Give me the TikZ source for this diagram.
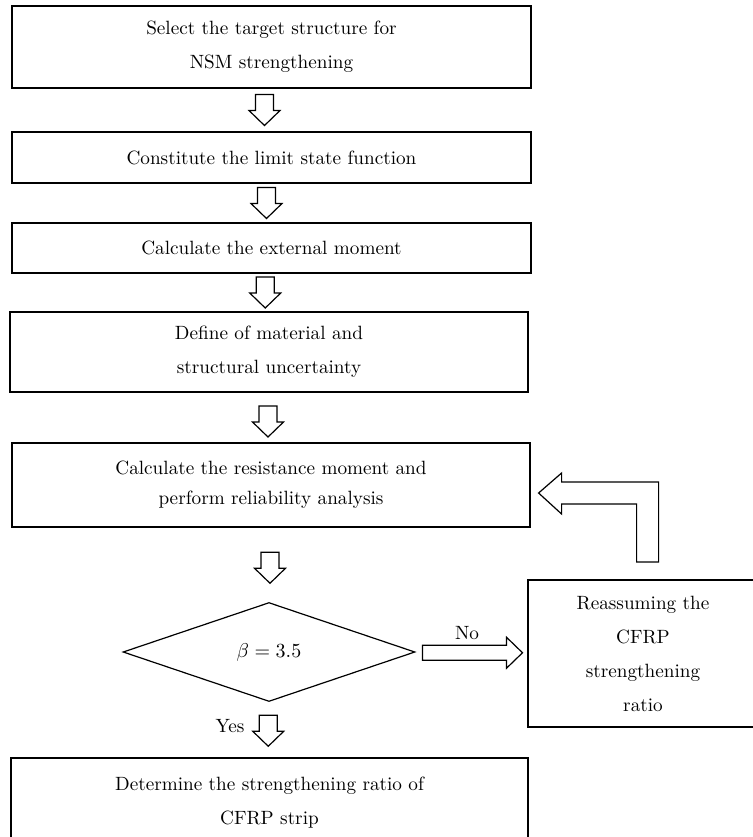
\documentclass[tikz,border=0pt]{standalone}
\usepackage{amsmath,amssymb}
\usepackage{tikz}
\usetikzlibrary{calc}
\usetikzlibrary{shapes.geometric}

\tikzset{
  hollow/.style={draw,line width=0.6pt,fill=white,line join=miter},
  downarr/.pic={\draw[hollow](-9,-15.5)--(9,-15.5)--(9,0.5)--(15.5,0.5)--(0,15.5)--(-15.5,0.5)--(-9,0.5)--cycle;},
  rightarr/.pic={\draw[hollow](-50,-7.5)--(34,-7.5)--(34,-15.5)--(50,0)--(34,15.5)--(34,7.5)--(-50,7.5)--cycle;}
}

\begin{document}
\begin{tikzpicture}[x=0.5pt,y=-0.5pt,
  box/.style={draw,line width=0.6pt,align=center,inner sep=0pt,minimum width=259.5pt,font=\fontsize{9.6}{17}\selectfont},
  lbl/.style={inner sep=0pt,font=\fontsize{9.6}{17}\selectfont}]
\clip(0,0)rectangle(753,837);
\node[box,minimum height=41pt](sel)at(271.5,47){Select the target structure for\\NSM strengthening};
\node[box,minimum height=25.5pt](lsf)at(271.5,157.5){Constitute the limit state function};
\node[box,minimum height=25pt](ext)at(271.5,248){Calculate the external moment};
\node[box,minimum width=259pt,minimum height=40pt](unc)at(269,352){Define of material and\\structural uncertainty};
\node[box,minimum width=259pt,minimum height=42pt,font=\fontsize{9.6}{15}\selectfont](res)at(271,485){Calculate the resistance moment and\\perform reliability analysis};
\node[draw,line width=0.6pt,shape=diamond,inner sep=0pt,minimum width=146pt,minimum height=49.5pt,font=\fontsize{9.6}{17}\selectfont](dia)at(269,652){$\beta = 3.5$};
\node[box,minimum width=115pt,minimum height=73.5pt](redo)at(643,653.5){Reassuming the\\CFRP\\strengthening\\ratio};
\node[box,minimum width=258.5pt,minimum height=44.5pt](det)at(269.5,802.5){Determine the strengthening ratio of\\CFRP strip};
% hollow arrows
\pic at($(sel.south)!.5!(lsf.north)+(-7,0)$){downarr};
\pic at($(lsf.south)!.5!(ext.north)+(-5,0)$){downarr};
\pic at($(ext.south)!.5!(unc.north)+(-5,0)$){downarr};
\pic at($(unc.south)!.5!(res.north)+(-2,4)$){downarr};
\pic at($(res.south)!.5!(dia.north)+(0,3)$){downarr};
\pic at($(dia.south)!.5!(det.north)+(-1,1)$){downarr};
\pic at($(dia.east)!.5!(redo.west)+(1,0)$){rightarr};
\draw[hollow]([shift={(8,8)}]res.east)--++(23,-20)--++(0,9)--++(97,0)--++(0,80)--++(-22,0)--++(0,-58)--++(-75,0)--++(0,10)--cycle;
\node[lbl](no)at(467,633){No};
\node[lbl](yes)at(230,726){Yes};
\end{tikzpicture}
\end{document}
